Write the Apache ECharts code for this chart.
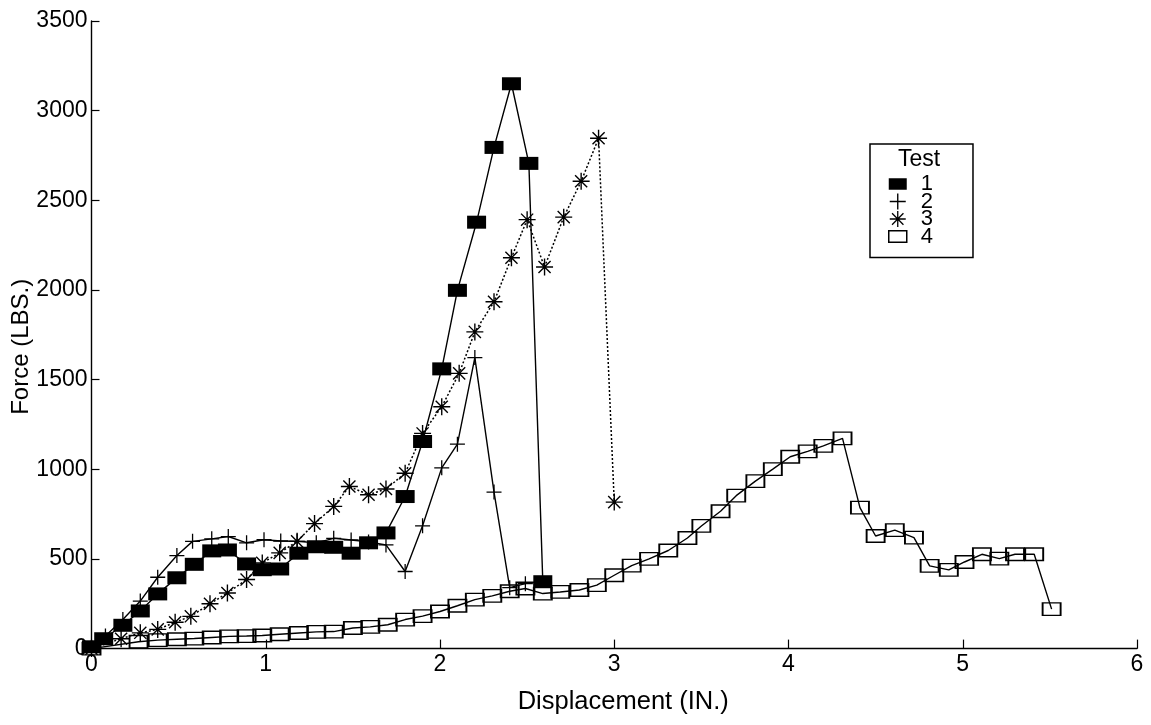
<!DOCTYPE html>
<html>
<head>
<meta charset="utf-8">
<script src="https://cdn.jsdelivr.net/npm/echarts@6/dist/echarts.min.js"></script>
<style>
html,body{margin:0;padding:0;background:#fff;}
#chart{width:1151px;height:725px;}
</style>
</head>
<body>
<div id="chart"></div>
<script>
// ---- data ----
const xTickValues = [0, 1, 2, 3, 4, 5, 6];
const yTickValues = [0, 500, 1000, 1500, 2000, 2500, 3000, 3500];
const seriesNames = ['1', '2', '3', '4'];

const test1X = [0, 0.07, 0.18, 0.28, 0.38, 0.49, 0.59, 0.69, 0.78, 0.89, 0.98, 1.08, 1.19, 1.29, 1.39, 1.49, 1.59, 1.69, 1.80, 1.90, 2.01, 2.10, 2.21, 2.31, 2.41, 2.51, 2.59];
const test1Y = [10, 55, 130, 210, 305, 395, 470, 545, 550, 472, 440, 444, 532, 568, 565, 532, 590, 645, 848, 1155, 1560, 1998, 2378, 2795, 3150, 2706, 373];

const test2X = [0, 0.08, 0.18, 0.28, 0.38, 0.49, 0.58, 0.69, 0.785, 0.89, 0.99, 1.086, 1.18, 1.29, 1.39, 1.49, 1.59, 1.69, 1.80, 1.90, 2.01, 2.10, 2.20, 2.31, 2.40, 2.49];
const test2Y = [0, 70, 162, 265, 398, 519, 598, 612, 625, 590, 607, 600, 598, 590, 615, 606, 595, 578, 430, 685, 1008, 1140, 1623, 873, 340, 362];

const test3X = [0, 0.17, 0.28, 0.38, 0.48, 0.57, 0.68, 0.78, 0.89, 0.98, 1.08, 1.18, 1.28, 1.39, 1.48, 1.59, 1.69, 1.80, 1.90, 2.01, 2.11, 2.20, 2.31, 2.41, 2.50, 2.60, 2.71, 2.81, 2.91, 3.00];
const test3Y = [0, 55, 88, 107, 147, 180, 250, 310, 385, 478, 534, 598, 697, 793, 904, 858, 890, 978, 1200, 1349, 1535, 1766, 1934, 2180, 2392, 2128, 2406, 2606, 2846, 817];

const test4X = [0, 0.27, 0.38, 0.49, 0.59, 0.69, 0.79, 0.89, 0.98, 1.08, 1.19, 1.29, 1.39, 1.50, 1.60, 1.70, 1.80, 1.90, 2.00, 2.10, 2.20, 2.30, 2.40, 2.49, 2.59, 2.69, 2.80, 2.90, 3.00, 3.10, 3.20, 3.31, 3.42, 3.50, 3.61, 3.70, 3.81, 3.91, 4.01, 4.11, 4.20, 4.31, 4.41, 4.50, 4.61, 4.72, 4.81, 4.92, 5.01, 5.11, 5.21, 5.30, 5.41, 5.51];
const test4Y = [0, 38, 47, 52, 56, 62, 68, 70, 73, 80, 87, 93, 95, 115, 121, 133, 162, 181, 207, 239, 273, 294, 320, 335, 307, 316, 327, 354, 409, 463, 500, 547, 617, 684, 766, 853, 934, 1001, 1070, 1100, 1131, 1172, 786, 628, 661, 619, 461, 439, 483, 526, 502, 526, 526, 220];

// ---- build ----
function pairs(xs, ys) { return xs.map((x, i) => [x, ys[i]]); }

const FONT = "'Liberation Sans', Arial, Helvetica, sans-serif";
const plusPath = 'path://M0,6.4H14V7.6H0Z M6.4,0H7.6V14H6.4Z';
const starPath = 'path://M0,7.35H16V8.65H0Z M7.35,0H8.65V16H7.35Z M2.76,1.84L14.16,13.24L13.24,14.16L1.84,2.76Z M13.24,1.84L14.16,2.76L2.76,14.16L1.84,13.24Z';
const rectPath = 'path://M0,0H18V11.5H0Z';

const chart = echarts.init(document.getElementById('chart'), null, { renderer: 'canvas' });

const option = {
  animation: false,
  backgroundColor: '#fff',
  grid: { left: 91.5, right: 14, top: 21, bottom: 76.4, containLabel: false, outerBoundsMode: 'none' },
  xAxis: {
    type: 'value', min: xTickValues[0], max: xTickValues[xTickValues.length - 1], interval: 1,
    name: 'Displacement (IN.)', nameLocation: 'middle', nameGap: 40, nameMoveOverlap: false,
    nameTextStyle: { fontFamily: FONT, fontSize: 25.5, color: '#000', padding: [0, 0, 0, 18] },
    axisLine: { show: true, onZero: false, lineStyle: { color: '#000', width: 1.4 } },
    axisTick: { show: true, inside: true, length: 9, lineStyle: { color: '#000', width: 1.2 } },
    axisLabel: { fontFamily: FONT, fontSize: 23, color: '#000', margin: 5, formatter: v => String(v) },
    splitLine: { show: false }
  },
  yAxis: {
    type: 'value', min: yTickValues[0], max: yTickValues[yTickValues.length - 1], interval: 500,
    name: 'Force (LBS.)', nameLocation: 'middle', nameGap: 58, nameMoveOverlap: false,
    nameTextStyle: { fontFamily: FONT, fontSize: 24, color: '#000', padding: [0, 24, 0, 0] },
    axisLine: { show: true, onZero: false, lineStyle: { color: '#000', width: 1.4 } },
    axisTick: { show: true, inside: true, length: 8, lineStyle: { color: '#000', width: 1.2 } },
    axisLabel: { fontFamily: FONT, fontSize: 23, color: '#000', margin: 4, formatter: v => String(v) },
    splitLine: { show: false }
  },
  legend: {
    orient: 'vertical', left: 870, top: 144,
    padding: [29, 40, 10, 18],
    itemGap: -4.5, itemWidth: 18, itemHeight: 16,
    borderColor: '#000', borderWidth: 1.5, backgroundColor: '#fff',
    textStyle: { fontFamily: FONT, fontSize: 22, color: '#000', lineHeight: 18, padding: [0, 0, 0, 9] },
    selectedMode: false,
    data: [
      { name: seriesNames[0], icon: rectPath, itemStyle: { color: '#000', borderWidth: 0 } },
      { name: seriesNames[1], icon: plusPath, itemStyle: { color: '#000', borderWidth: 0 } },
      { name: seriesNames[2], icon: starPath, itemStyle: { color: '#000', borderWidth: 0 } },
      { name: seriesNames[3], icon: rectPath, itemStyle: { color: 'rgba(0,0,0,0)', borderColor: '#000', borderWidth: 1.5 } }
    ]
  },
  graphic: [
    { type: 'text', left: 898, top: 148, z: 100,
      style: { text: 'Test', fontFamily: FONT, fontSize: 23, fill: '#000' } }
  ],
  series: [
    {
      name: seriesNames[3], type: 'line', data: pairs(test4X, test4Y),
      symbol: 'rect', symbolSize: [18, 12.5], showAllSymbol: true,
      lineStyle: { color: '#000', width: 1.4 },
      itemStyle: { color: 'rgba(0,0,0,0)', borderColor: '#000', borderWidth: 1.6 },
      z: 2
    },
    {
      name: seriesNames[2], type: 'line', data: pairs(test3X, test3Y),
      symbol: starPath, symbolSize: 17, showAllSymbol: true,
      lineStyle: { color: '#000', width: 1.5, type: [2, 2] },
      itemStyle: { color: '#000' },
      z: 3
    },
    {
      name: seriesNames[1], type: 'line', data: pairs(test2X, test2Y),
      symbol: plusPath, symbolSize: 15, showAllSymbol: true,
      lineStyle: { color: '#000', width: 1.4 },
      itemStyle: { color: '#000' },
      z: 4
    },
    {
      name: seriesNames[0], type: 'line', data: pairs(test1X, test1Y),
      symbol: 'rect', symbolSize: [19, 13], showAllSymbol: true,
      lineStyle: { color: '#000', width: 1.4 },
      itemStyle: { color: '#000' },
      z: 5
    }
  ]
};
chart.setOption(option);
</script>
</body>
</html>
